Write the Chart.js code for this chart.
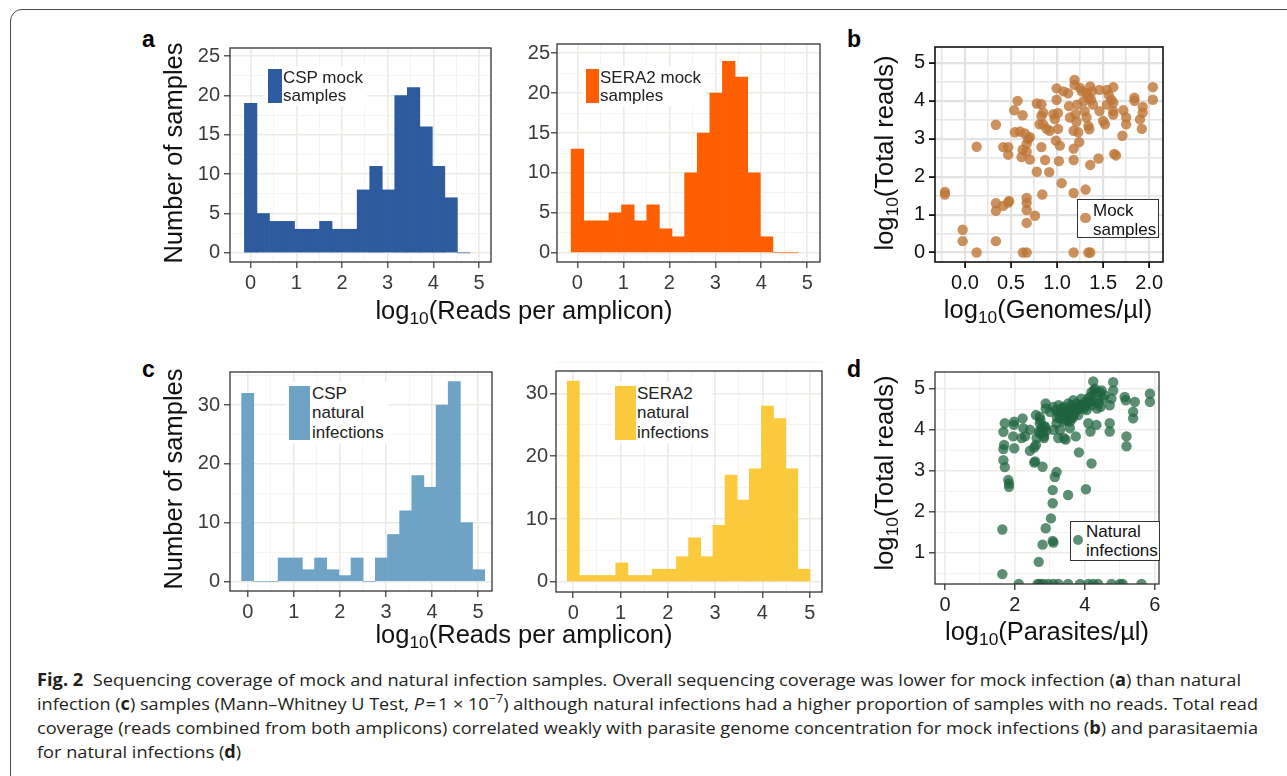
<!DOCTYPE html>
<html>
<head>
<meta charset="utf-8">
<title>Fig. 2 – sequencing coverage</title>
<script src="https://cdn.jsdelivr.net/npm/chart.js@4.4.0/dist/chart.umd.min.js"></script>
<style>
  html, body { margin: 0; padding: 0; background: #fff; }
  body { width: 1287px; height: 776px; position: relative; overflow: hidden;
         font-family: "Liberation Sans", Arial, Helvetica, sans-serif; }
  .card { position: absolute; left: 10px; top: 9px; width: 1330px; height: 830px;
          border: 1px solid #4a4a4a; border-radius: 12px; }
  .panel { position: absolute; }
  .panel canvas { display: block; }
  .tag { position: absolute; font-weight: bold; font-size: 23px; line-height: 1; color: #000; }
  .atitle { position: absolute; font-size: 25.5px; line-height: 1; white-space: nowrap; color: #111;
            transform: translate(-50%, -50%); }
  .atitle.rot { transform: translate(-50%, -50%) rotate(-90deg); }
  .sub { font-size: 0.68em; position: relative; top: 0.3em; }
  .box { position: absolute; background: #fff; }
  .key { position: absolute; }
  .ltext { position: absolute; font-size: 17px; white-space: nowrap; color: #222; }
  .pleg { position: absolute; background: #fff; border: 1px solid #333; box-sizing: border-box; }
  .dot { position: absolute; border-radius: 50%; }
  .caption { position: absolute; left: 37px; top: 668px; font-family: "Open Sans", "Noto Sans", sans-serif;
             font-size: 17px; line-height: 24px; color: #231f20; }
  .cl { white-space: nowrap; height: 24px; }
  .cl span.inner { display: inline-block; transform-origin: 0 50%; }
</style>
</head>
<body>
<div class="card"></div>

<!-- panel letters -->
<div class="tag" style="left:142px;top:28px;">a</div>
<div class="tag" style="left:847px;top:28px;">b</div>
<div class="tag" style="left:142px;top:358px;">c</div>
<div class="tag" style="left:847px;top:358px;">d</div>

<div class="panel" id="pA1"><canvas id="cA1"></canvas></div>
<div class="panel" id="pA2"><canvas id="cA2"></canvas></div>
<div class="panel" id="pB"><canvas id="cB"></canvas></div>
<div class="panel" id="pC1"><canvas id="cC1"></canvas></div>
<div class="panel" id="pC2"><canvas id="cC2"></canvas></div>
<div class="panel" id="pD"><canvas id="cD"></canvas></div>

<!-- axis titles -->
<div class="atitle rot" style="left:174px;top:153px;">Number of samples</div>
<div class="atitle rot" style="left:174px;top:479px;">Number of samples</div>
<div class="atitle" style="left:524px;top:311px;">log<span class="sub">10</span>(Reads per amplicon)</div>
<div class="atitle" style="left:524px;top:635px;">log<span class="sub">10</span>(Reads per amplicon)</div>
<div class="atitle rot" style="left:885px;top:153px;">log<span class="sub">10</span>(Total reads)</div>
<div class="atitle rot" style="left:885px;top:473px;">log<span class="sub">10</span>(Total reads)</div>
<div class="atitle" style="left:1048px;top:310px;">log<span class="sub">10</span>(Genomes/µl)</div>
<div class="atitle" style="left:1047px;top:632px;">log<span class="sub">10</span>(Parasites/µl)</div>

<!-- histogram legends -->
<div class="box" style="left:265px;top:66px;width:102px;height:40px;"></div>
<div class="key" id="kA1" style="left:268px;top:69px;width:14px;height:34px;"></div>
<div class="ltext" style="left:283px;top:69px;line-height:18.4px;">CSP mock<br>samples</div>

<div class="box" style="left:582px;top:66px;width:124px;height:40px;"></div>
<div class="key" id="kA2" style="left:586px;top:69px;width:13px;height:34px;"></div>
<div class="ltext" style="left:600px;top:69px;line-height:18.4px;">SERA2 mock<br>samples</div>

<div class="box" style="left:286px;top:382px;width:102px;height:61px;"></div>
<div class="key" id="kC1" style="left:289px;top:386px;width:21px;height:54px;"></div>
<div class="ltext" style="left:312px;top:384px;line-height:19.4px;">CSP<br>natural<br>infections</div>

<div class="box" style="left:612px;top:382px;width:100px;height:61px;"></div>
<div class="key" id="kC2" style="left:615px;top:386px;width:21px;height:54px;"></div>
<div class="ltext" style="left:637px;top:384px;line-height:19.4px;">SERA2<br>natural<br>infections</div>

<!-- scatter legends -->
<div class="pleg" style="left:1077px;top:199px;width:82px;height:39px;"></div>
<div class="dot" id="dB" style="left:1080px;top:212.5px;width:10.5px;height:10.5px;"></div>
<div class="ltext" style="left:1093px;top:200.5px;line-height:19px;color:#111;">Mock<br>samples</div>

<div class="pleg" style="left:1070px;top:521px;width:90px;height:40px;"></div>
<div class="dot" id="dD" style="left:1072.7px;top:535px;width:10px;height:10px;"></div>
<div class="ltext" style="left:1086px;top:522px;line-height:19.3px;color:#111;">Natural<br>infections</div>

<div class="caption">
  <div class="cl"><span class="inner"><b>Fig. 2</b>&nbsp; Sequencing coverage of mock and natural infection samples. Overall sequencing coverage was lower for mock infection (<b>a</b>) than natural</span></div>
  <div class="cl"><span class="inner">infection (<b>c</b>) samples (Mann–Whitney U Test, <i>P</i>&#8202;=&#8202;1 × 10<sup style="font-size:0.7em;line-height:0">−7</sup>) although natural infections had a higher proportion of samples with no reads. Total read</span></div>
  <div class="cl"><span class="inner">coverage (reads combined from both amplicons) correlated weakly with parasite genome concentration for mock infections (<b>b</b>) and parasitaemia</span></div>
  <div class="cl"><span class="inner">for natural infections (<b>d</b>)</span></div>
</div>

<script>
/* ---------- data ---------- */

// panel a: 18 bins, centres on log10(reads per amplicon)
const mockBins   = [0, 0.274, 0.549, 0.823, 1.097, 1.372, 1.646, 1.920, 2.195, 2.469, 2.744, 3.018, 3.292, 3.567, 3.841, 4.115, 4.390, 4.664];
const cspMock    = [19, 5, 4, 4, 3, 3, 4, 3, 3, 8, 11, 8, 20, 21, 16, 11, 7, 0];
const sera2Mock  = [13, 4, 4, 5, 6, 4, 6, 3, 2, 10, 15, 20, 24, 22, 10, 2, 0, 0];

// panel c: 20 bins each
const cspNatBins   = [0, 0.264, 0.527, 0.791, 1.055, 1.318, 1.582, 1.846, 2.109, 2.373, 2.637, 2.900, 3.164, 3.428, 3.691, 3.955, 4.219, 4.482, 4.746, 5.010];
const cspNat       = [32, 0, 0, 4, 4, 2, 4, 2, 1, 4, 0, 4, 8, 12, 18, 16, 30, 34, 10, 2];
const sera2NatBins = [0, 0.257, 0.513, 0.770, 1.027, 1.284, 1.540, 1.797, 2.054, 2.310, 2.567, 2.824, 3.081, 3.337, 3.594, 3.851, 4.108, 4.364, 4.621, 4.878];
const sera2Nat     = [32, 1, 1, 1, 3, 1, 1, 2, 2, 4, 7, 4, 9, 17, 13, 18, 28, 26, 18, 2];

// panel b: [log10 genomes/µl, log10 total reads]
const mockPoints = [
  [-0.217,1.53],[-0.217,1.60],[-0.025,0.60],[-0.025,0.30],[0.127,0],[0.127,2.79],[0.336,3.37],[0.336,0.30],
  [0.336,1.30],[0.336,1.10],[0.416,1.23],[0.48,1.36],[0.47,1.32],[0.416,2.78],[0.47,2.78],[0.47,2.58],
  [0.535,3.75],[0.571,4.00],[0.626,3.62],[0.542,3.17],[0.597,3.19],[0.65,3.14],[0.687,3.00],[0.705,3.04],
  [0.67,2.87],[0.626,2.71],[0.615,2.52],[0.67,2.66],[0.705,2.45],[0.63,0],[0.67,0],[0.67,1.44],
  [0.67,1.31],[0.67,1.12],[0.67,0.78],[0.76,0.97],[0.78,2.13],[0.83,2.78],[0.84,1.53],[0.87,2.44],
  [0.915,2.12],[0.78,3.93],[0.83,3.91],[0.85,3.69],[0.85,3.38],[0.83,3.60],[0.81,3.38],[0.886,3.26],
  [0.92,3.21],[0.976,3.52],[0.96,3.65],[0.995,4.33],[0.995,4.03],[1.01,3.68],[0.987,2.95],[1.03,2.82],
  [1.01,3.26],[1.02,2.41],[1.05,1.83],[1.07,4.25],[1.12,4.20],[1.13,3.86],[1.14,3.56],[1.18,3.21],
  [1.18,2.74],[1.18,2.44],[1.19,4.55],[1.19,4.42],[1.20,3.65],[1.21,3.45],[1.23,3.17],[1.24,2.91],
  [1.22,3.90],[1.25,4.34],[1.27,4.25],[1.29,3.99],[1.30,3.73],[1.32,3.56],[1.34,4.08],[1.34,3.34],
  [1.35,3.25],[1.36,4.38],[1.37,4.03],[1.38,4.25],[1.39,3.90],[1.32,4.21],[1.31,1.66],[1.18,1.57],
  [1.18,0],[1.34,0],[1.36,0],[1.36,2.31],[1.45,2.48],[1.46,4.29],[1.46,3.73],[1.50,3.47],
  [1.52,3.38],[1.54,4.29],[1.56,4.16],[1.54,3.90],[1.59,4.03],[1.61,3.95],[1.61,4.36],[1.61,3.64],
  [1.64,2.56],[1.62,2.60],[1.61,3.73],[1.72,3.75],[1.71,3.08],[1.75,3.56],[1.75,3.38],[1.84,4.08],
  [1.84,4.00],[1.90,3.51],[1.92,3.26],[1.93,3.84],[1.93,3.69],[2.04,4.36],[2.04,4.03]
];

// panel d: [log10 parasites/µl, log10 total reads]; 0.24 = sitting on the lower edge
const naturalPoints = [
  [2.11,0.24],[2.65,0.24],[2.71,0.24],[2.81,0.24],[2.95,0.24],[3.10,0.24],[3.24,0.24],[3.52,0.24],
  [3.86,0.24],[4.10,0.24],[4.24,0.24],[4.38,0.24],[4.76,0.24],[5.00,0.24],[5.08,0.24],[5.62,0.24],
  [1.64,0.48],[1.64,1.57],[2.68,0.78],[2.79,1.20],[2.88,1.60],[3.03,1.84],[3.08,2.21],[3.08,2.53],
  [3.14,2.85],[3.19,2.97],[3.08,1.29],[3.10,1.25],[3.79,1.29],[3.52,2.41],[4.03,2.55],[4.19,3.18],
  [3.83,3.45],[2.79,3.10],[2.55,3.20],[2.58,3.23],
  [1.83,2.61],[1.83,2.69],[1.81,2.78],[1.71,3.09],[1.67,3.26],[1.67,3.53],[1.69,3.63],[1.67,3.95],[1.71,4.16],
  [1.98,3.55],[1.95,3.84],[1.98,4.20],[1.97,4.12],[2.22,4.28],[2.24,4.04],[2.19,3.80],[2.29,3.84],
  [2.43,4.00],[2.43,3.49],[2.55,3.57],[2.60,3.63],[2.62,3.80],[2.60,4.36],[2.71,4.32],
  [2.71,4.16],[2.76,4.04],[2.81,3.92],[2.83,3.84],[2.90,3.98],[2.86,4.08],[2.69,3.96],[2.73,4.24],
  [2.71,3.92],[2.83,3.80],[2.83,4.08],
  [2.88,4.64],[2.88,4.52],[3.00,4.44],
  [3.10,4.56],[3.17,4.48],[3.24,4.40],[3.29,4.28],[3.33,4.52],[3.38,4.36],[3.40,4.20],[3.43,4.44],
  [3.48,4.32],[3.52,4.64],[3.57,4.52],[3.62,4.28],[3.67,4.72],[3.71,4.52],[3.76,4.64],[3.81,4.36],
  [3.86,4.60],[3.90,4.76],[3.95,4.60],[4.00,4.68],[4.05,4.48],[4.10,4.76],[4.14,4.80],[4.19,4.92],
  [4.24,5.18],[4.26,4.96],[4.29,5.00],[4.33,4.92],[4.38,4.72],[4.43,4.92],[4.48,4.96],
  [3.30,4.44],[3.36,4.48],[3.45,4.40],[3.50,4.48],[3.55,4.36],[3.60,4.44],[3.40,4.56],[3.62,4.60],
  [3.70,4.40],[3.78,4.48],[3.84,4.52],[3.92,4.56],[3.98,4.52],[4.02,4.60],[4.08,4.64],[3.25,4.60],
  [3.45,4.24],[3.20,4.30],[3.58,4.20],[3.66,4.30],
  [4.52,4.76],[4.57,4.84],[4.40,4.64],[4.45,4.56],[4.20,4.60],[4.25,4.70],[4.15,4.68],
  [3.10,4.00],[3.19,4.16],[3.29,4.00],[3.40,3.80],[3.45,3.76],[3.52,4.24],[3.57,4.04],[3.74,3.84],
  [3.24,3.80],[4.10,4.16],[4.16,3.96],[4.33,4.12],[4.35,4.52],
  [4.71,4.60],[4.76,4.76],[4.81,5.16],[4.81,4.96],[4.71,4.16],[4.71,3.96],
  [5.14,4.80],[5.17,4.72],[5.19,3.84],[5.19,3.60],[5.43,4.68],[5.38,4.44],[5.38,4.28],
  [5.86,4.88],[5.86,4.68]
];

// tick values and labels ('' = minor grid line only)
const readTicks      = [0, 0.5, 1, 1.5, 2, 2.5, 3, 3.5, 4, 4.5, 5];
const readLabels     = ['0', '', '1', '', '2', '', '3', '', '4', '', '5'];
const mockCountTicks  = [0, 2.5, 5, 7.5, 10, 12.5, 15, 17.5, 20, 22.5, 25];
const mockCountLabels = ['0', '', '5', '', '10', '', '15', '', '20', '', '25'];
const natCountTicks   = [0, 5, 10, 15, 20, 25, 30, 35];
const natCountLabels  = ['0', '', '10', '', '20', '', '30', ''];
const genomeTicks  = [-0.25, 0, 0.25, 0.5, 0.75, 1, 1.25, 1.5, 1.75, 2];
const genomeLabels = ['', '0.0', '', '0.5', '', '1.0', '', '1.5', '', '2.0'];
const totalTicksB  = [0, 0.5, 1, 1.5, 2, 2.5, 3, 3.5, 4, 4.5, 5];
const totalLabelsB = ['0', '', '1', '', '2', '', '3', '', '4', '', '5'];
const parasiteTicks  = [0, 1, 2, 3, 4, 5, 6];
const parasiteLabels = ['0', '', '2', '', '4', '', '6'];
const totalTicksD  = [0.5, 1, 1.5, 2, 2.5, 3, 3.5, 4, 4.5, 5];
const totalLabelsD = ['', '1', '', '2', '', '3', '', '4', '', '5'];

/* ---------- styling ---------- */
const FONT = '"Liberation Sans", Arial, Helvetica, sans-serif';
const COLORS = {
  cspMock:   '#2E5A9E',
  sera2Mock: '#FF5F00',
  cspNat:    '#6FA3C6',
  sera2Nat:  '#FBC93C',
  mockPt:    'rgba(190,118,55,0.8)',
  natPt:     'rgba(30,100,62,0.72)'
};

const histStyle = { major: '#EBEBE6', minor: '#F3F3EF', majorW: 1.6, minorW: 0.9,
                    tick: '#333', tickW: 1.2, text: '#3a3a3a', frame: '#333', frameW: 1.3 };
const bStyle    = { major: '#E2E2E2', minor: '#E6E6E6', majorW: 2.2, minorW: 1.5,
                    tick: '#111', tickW: 1.8, text: '#111', frame: '#111', frameW: 1.6 };
const dStyle    = { major: '#EBEBE7', minor: '#F2F2EF', majorW: 1.6, minorW: 0.9,
                    tick: '#333', tickW: 1.3, text: '#222', frame: '#333', frameW: 1.3 };

const Y_W = 70, X_H = 40, PAD_T = 12, PAD_R = 12;

/* draws the full panel rectangle on top of the data */
const frame = {
  id: 'frame',
  afterDraw(chart, args, opts) {
    const { ctx, chartArea: a } = chart;
    ctx.save();
    ctx.strokeStyle = opts.color;
    ctx.lineWidth = opts.width;
    ctx.strokeRect(a.left, a.top, a.right - a.left, a.bottom - a.top);
    ctx.restore();
  }
};

function axis(min, max, ticks, labels, st, pad) {
  return {
    type: 'linear', min, max, offset: false, bounds: 'data',
    afterBuildTicks: (s) => { s.ticks = ticks.map(v => ({ value: v })); },
    afterFit: (s) => { if (s.isHorizontal()) s.height = X_H; else s.width = Y_W; },
    grid: {
      offset: false,
      color: (c) => labels[c.index] ? st.major : st.minor,
      lineWidth: (c) => labels[c.index] ? st.majorW : st.minorW,
      tickColor: (c) => labels[c.index] ? st.tick : 'rgba(0,0,0,0)',
      tickWidth: st.tickW,
      tickLength: 6
    },
    border: { display: false },
    ticks: {
      padding: pad, color: st.text, autoSkip: false, maxRotation: 0,
      font: { family: FONT, size: 20 },
      callback: (v, i) => labels[i]
    }
  };
}

function place(id, canvasId, r) {
  const w = r.r - r.l + Y_W + PAD_R;
  const h = r.b - r.t + PAD_T + X_H;
  const box = document.getElementById(id);
  box.style.left = (r.l - Y_W) + 'px';
  box.style.top = (r.t - PAD_T) + 'px';
  const cv = document.getElementById(canvasId);
  cv.width = w; cv.height = h;
  cv.style.width = w + 'px'; cv.style.height = h + 'px';
  return cv;
}

function baseOptions(st, xScale, yScale) {
  return {
    responsive: false,
    animation: false,
    devicePixelRatio: 1,
    layout: { autoPadding: false, padding: { left: 0, top: PAD_T, right: PAD_R, bottom: 0 } },
    scales: { x: xScale, y: yScale },
    plugins: {
      legend: { display: false },
      tooltip: { enabled: false },
      frame: { color: st.frame, width: st.frameW }
    }
  };
}

function histogram(id, canvasId, rect, bins, counts, color, xr, yr, yTicks, yLabels, yPad) {
  const cv = place(id, canvasId, rect);
  return new Chart(cv, {
    type: 'bar',
    data: {
      datasets: [{
        data: bins.map((x, i) => ({ x, y: counts[i] })),
        backgroundColor: color,
        borderWidth: 0,
        barPercentage: 1,
        categoryPercentage: 1
      }]
    },
    options: baseOptions(histStyle,
      axis(xr[0], xr[1], readTicks, readLabels, histStyle, 3),
      axis(yr[0], yr[1], yTicks, yLabels, histStyle, yPad)),
    plugins: [frame]
  });
}

function scatter(id, canvasId, rect, pts, color, st, xr, yr, xt, xl, yt, yl) {
  const cv = place(id, canvasId, rect);
  return new Chart(cv, {
    type: 'scatter',
    data: {
      datasets: [{
        data: pts.map(([x, y]) => ({ x, y })),
        backgroundColor: color,
        pointRadius: 5.2,
        pointHoverRadius: 5.2,
        pointBorderWidth: 0,
        clip: 0
      }]
    },
    options: baseOptions(st,
      axis(xr[0], xr[1], xt, xl, st, 3),
      axis(yr[0], yr[1], yt, yl, st, 4)),
    plugins: [frame]
  });
}

/* ---------- panels ---------- */
histogram('pA1', 'cA1', { l: 230, t: 44, r: 491, b: 262 }, mockBins, cspMock, COLORS.cspMock,
  [-0.453, 5.263], [-1.16, 26.03], mockCountTicks, mockCountLabels, 4);
histogram('pA2', 'cA2', { l: 557, t: 43, r: 820, b: 262 }, mockBins, sera2Mock, COLORS.sera2Mock,
  [-0.444, 5.277], [-1.16, 26.16], mockCountTicks, mockCountLabels, 1);
histogram('pC1', 'cC1', { l: 230, t: 368, r: 492, b: 591 }, cspNatBins, cspNat, COLORS.cspNat,
  [-0.384, 5.30], [-1.62, 35.63], natCountTicks, natCountLabels, 4);
histogram('pC2', 'cC2', { l: 556, t: 369, r: 822, b: 592 }, sera2NatBins, sera2Nat, COLORS.sera2Nat,
  [-0.365, 5.26], [-1.63, 33.59], natCountTicks, natCountLabels, 2);

scatter('pB', 'cB', { l: 935, t: 43, r: 1163, b: 262 }, mockPoints, COLORS.mockPt, bStyle,
  [-0.325, 2.15], [-0.25, 5.42], genomeTicks, genomeLabels, totalTicksB, totalLabelsB);
scatter('pD', 'cD', { l: 935, t: 368, r: 1159, b: 584 }, naturalPoints, COLORS.natPt, dStyle,
  [-0.286, 6.12], [0.24, 5.41], parasiteTicks, parasiteLabels, totalTicksD, totalLabelsD);

/* legend keys take the series colours */
document.getElementById('kA1').style.background = COLORS.cspMock;
document.getElementById('kA2').style.background = COLORS.sera2Mock;
document.getElementById('kC1').style.background = COLORS.cspNat;
document.getElementById('kC2').style.background = COLORS.sera2Nat;
document.getElementById('dB').style.background = COLORS.mockPt;
document.getElementById('dD').style.background = COLORS.natPt;

/* caption: squeeze each line to the width it has in the figure */
function fitCaption() {
  const targets = [1204, 1221, 1221, null];
  let last = 1;
  document.querySelectorAll('.cl span.inner').forEach((s, i) => {
    s.style.transform = 'none';
    const w = s.getBoundingClientRect().width;
    const k = targets[i] ? targets[i] / w : last;
    last = k;
    s.style.transform = 'scaleX(' + k + ')';
  });
}
fitCaption();
if (document.fonts && document.fonts.ready) document.fonts.ready.then(fitCaption);
</script>
</body>
</html>
